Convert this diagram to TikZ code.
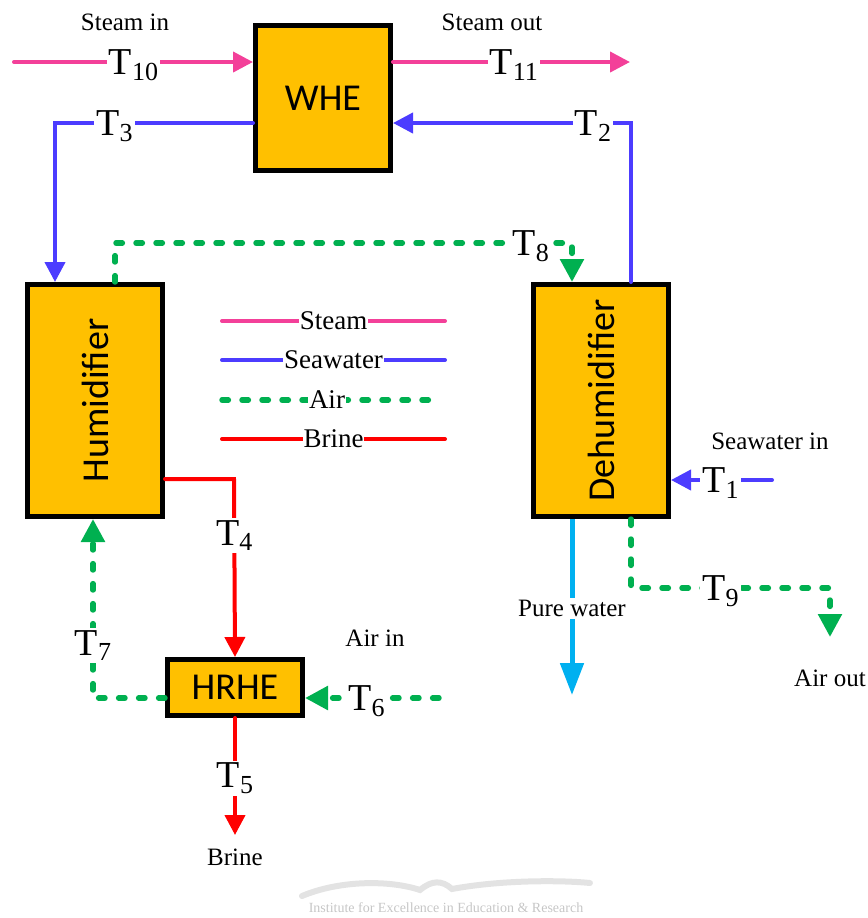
\documentclass[tikz,border=0pt]{standalone}
\usepackage{fontspec}
\setmainfont{Liberation Serif}
\newfontfamily\boxfont{Carlito}
\usepackage{tikz}
\usetikzlibrary{arrows.meta, positioning, calc}
\definecolor{unitfill}{RGB}{255,192,0}
\definecolor{steampink}{RGB}{243,64,153}
\definecolor{seablue}{RGB}{76,60,255}
\definecolor{airgreen}{RGB}{0,176,80}
\definecolor{brinered}{RGB}{255,0,0}
\definecolor{purecyan}{RGB}{0,176,240}
\newcommand{\tlab}[1]{T\raisebox{-2.8pt}{\fontsize{13}{13}\selectfont #1}}

\begin{document}
\begin{tikzpicture}[
    x=0.5pt, y=-0.5pt,
    unit/.style={rectangle, draw, line width=2.5pt, fill=unitfill, minimum width=67.5pt, font=\boxfont\fontsize{19}{19}\selectfont},
    tl/.style={fill=white, text=black, inner sep=1pt, anchor=base, yshift=-6.3pt, font=\fontsize{19}{19}\selectfont},
    note/.style={text=black, font=\fontsize{12.5}{14}\selectfont},
    legtxt/.style={fill=white, text=black, inner sep=0.5pt, anchor=base, yshift=-4.4pt, font=\fontsize{13.5}{14}\selectfont},
    steam/.style={line width=2pt, line cap=round, steampink},
    sea/.style={line width=2pt, line cap=round, seablue},
    air/.style={line width=2.7pt, line cap=round, airgreen, dash pattern=on 3.2pt off 6.8pt},
    brine/.style={line width=2pt, line cap=round, brinered},
    pure/.style={line width=2.5pt, purecyan, -{Triangle[length=16pt,width=11.5pt]}},
    arr/.style={-{Triangle[length=10pt,width=10pt]}},
    garr/.style={-{Triangle[length=11.5pt,width=11.5pt]}}
]
\useasboundingbox (0,0) rectangle (868,918);

% units
\node[unit, minimum height=72.5pt] (whe) at (323,98) {WHE};
\node[unit, minimum height=116pt] (hum) at (95,400.5) {\rotatebox{90}{Humidifier}};
\node[unit, minimum height=116pt] (dehum) at (601,400.5) {\rotatebox{90}{Dehumidifier}};
\node[unit, minimum height=28pt] (hrhe) at (235,687.5) {HRHE};

% free ends and bends
\coordinate (sin) at (14,62);
\coordinate (sout) at (630,62);
\coordinate (c3) at (55,123);
\coordinate (c2) at (631,123);
\coordinate (c8a) at (115,243);
\coordinate (c8b) at (572,243);
\coordinate (c4) at (234,479);
\coordinate (c5) at (235,835);
\coordinate (c6) at (439,698);
\coordinate (c7) at (93,698);
\coordinate (c1) at (772,480);
\coordinate (cpw) at (572,695);
\coordinate (c9a) at (631,588);
\coordinate (c9b) at (830,588);
\coordinate (c9c) at (830,637);

% steam
\draw[steam, arr] (sin) -- node[tl, pos=0.5] (t10) {\tlab{10}} (sin -| whe.west);
\draw[steam, arr] (whe.east |- sin) -- node[tl, pos=0.51] (t11) {\tlab{11}} (sout);

% seawater
\draw[sea, arr] (whe.west |- c3) -- node[tl, pos=0.7] (t3) {\tlab{3}} (c3) -- (hum.north -| c3);
\draw[sea, arr] (dehum.north -| c2) -- (c2) -- node[tl, pos=0.16] (t2) {\tlab{2}} (whe.east |- c2);
\draw[sea, arr] (c1) -- node[tl, pos=0.51] (t1) {\tlab{1}} (dehum.east |- c1);

% air
\draw[air, garr] (hum.north -| c8a) -- (c8a) -- node[tl, pos=0.91] (t8) {\tlab{8}} (c8b) -- (dehum.north -| c8b);
\draw[air, garr] (c6) -- node[tl, pos=0.54] (t6) {\tlab{6}} (hrhe.east |- c6);
\draw[air, garr] (hrhe.west |- c7) -- (c7) -- node[tl, pos=0.31] (t7) {\tlab{7}} (hum.south -| c7);
\draw[air, garr] (dehum.south -| c9a) -- (c9a) -- node[tl, pos=0.45] (t9) {\tlab{9}} (c9b) -- (c9c);

% brine
\draw[brine, arr] (hum.east |- c4) -- (c4) -- node[tl, pos=0.3] (t4) {\tlab{4}} (hrhe.north);
\draw[brine, arr] (hrhe.south) -- node[tl, pos=0.49] (t5) {\tlab{5}} (c5);

% pure water
\draw[pure] (dehum.south -| cpw) -- node[note, fill=white, inner sep=1pt, pos=0.51] (pw) {Pure water} (cpw);

% stream notes
\node[note] (steamin) at (125,22) {Steam in};
\node[note] (steamout) at (492,22) {Steam out};
\node[note] (seain) at (770,441) {Seawater in};
\node[note] (airin) at (375,638) {Air in};
\node[note] (airout) at (830,678) {Air out};
\node[note] (brineout) at (235,857) {Brine};

% legend
\foreach \yy/\sty/\txt/\xe in {321/steam/Steam/445, 360/sea/Seawater/445, 400/air/Air/432, 439/brine/Brine/445}
    \draw[\sty] (222,\yy) -- node[legtxt, pos=0.5] (leg-\txt) {\txt} (\xe,\yy);

% watermark
\draw[gray!22, line width=3pt, line cap=round] (302,896) .. controls (340,880) and (390,880) .. (420,890) .. controls (432,880) and (442,880) .. (452,889) .. controls (500,880) and (560,880) .. (590,883);
\node[font=\fontsize{7}{8}\selectfont, text=gray!45] (mark) at (446,908) {Institute for Excellence in Education \& Research};
\end{tikzpicture}
\end{document}
